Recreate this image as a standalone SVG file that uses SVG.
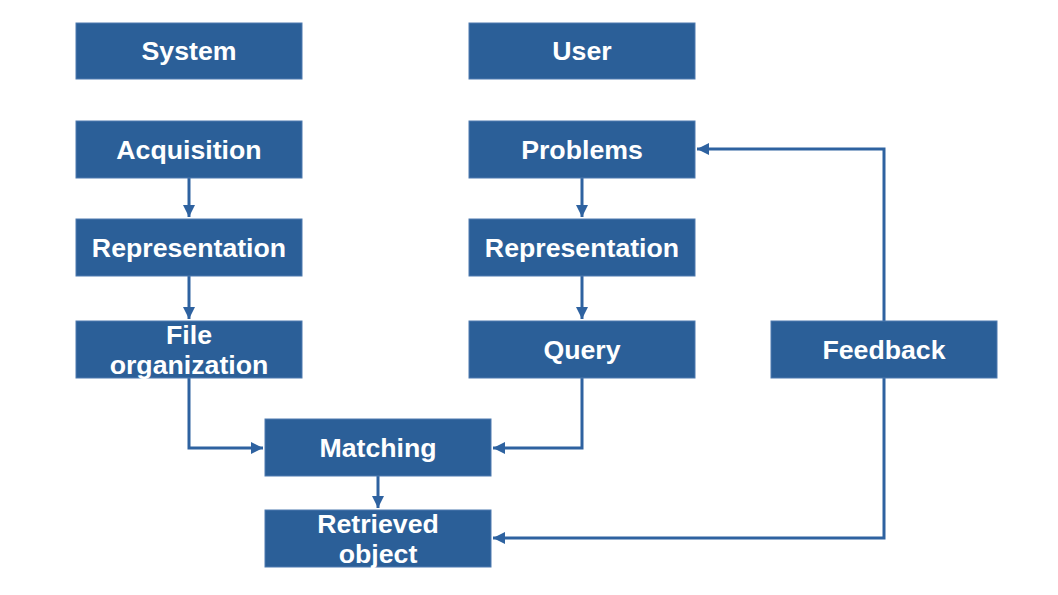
<svg xmlns="http://www.w3.org/2000/svg" width="1058" height="595" viewBox="0 0 1058 595">
<style>
.box{fill:#2b5f98;stroke:#4f7bb0;stroke-width:1}
.t{font-family:"Liberation Sans",Arial,sans-serif;font-weight:bold;font-size:26.7px;fill:#fff;text-anchor:middle}
.c{fill:none;stroke:#2e62a0;stroke-width:3}
</style>
<defs>
<marker id="ah" viewBox="0 0 10 10" refX="10" refY="5" markerWidth="4" markerHeight="4" orient="auto" markerUnits="strokeWidth">
<path d="M0,0 L10,5 L0,10 z" fill="#2e62a0"/>
</marker>
</defs>
<rect width="1058" height="595" fill="#fff"/>
<g id="connectors">
<path class="c" d="M189,178 V217" marker-end="url(#ah)"/>
<path class="c" d="M189,276 V319" marker-end="url(#ah)"/>
<path class="c" d="M582,178 V217" marker-end="url(#ah)"/>
<path class="c" d="M582,276 V319" marker-end="url(#ah)"/>
<path class="c" d="M189,378 V448 H263" marker-end="url(#ah)"/>
<path class="c" d="M582,378 V448 H493" marker-end="url(#ah)"/>
<path class="c" d="M378,476 V508" marker-end="url(#ah)"/>
<path class="c" d="M884,321 V149 H697" marker-end="url(#ah)"/>
<path class="c" d="M884,378 V538 H493" marker-end="url(#ah)"/>
</g>
<g id="system"><rect class="box" x="76" y="23" width="226" height="56"/><text class="t" x="189" y="60">System</text></g>
<g id="user"><rect class="box" x="469" y="23" width="226" height="56"/><text class="t" x="582" y="60">User</text></g>
<g id="acquisition"><rect class="box" x="76" y="121" width="226" height="57"/><text class="t" x="189" y="159">Acquisition</text></g>
<g id="problems"><rect class="box" x="469" y="121" width="226" height="57"/><text class="t" x="582" y="159">Problems</text></g>
<g id="representation-sys"><rect class="box" x="76" y="219" width="226" height="57"/><text class="t" x="189" y="257">Representation</text></g>
<g id="representation-user"><rect class="box" x="469" y="219" width="226" height="57"/><text class="t" x="582" y="257">Representation</text></g>
<g id="file-organization"><rect class="box" x="76" y="321" width="226" height="57"/><text class="t" x="189" y="344">File</text><text class="t" x="189" y="374">organization</text></g>
<g id="query"><rect class="box" x="469" y="321" width="226" height="57"/><text class="t" x="582" y="359">Query</text></g>
<g id="feedback"><rect class="box" x="771" y="321" width="226" height="57"/><text class="t" x="884" y="359">Feedback</text></g>
<g id="matching"><rect class="box" x="265" y="419" width="226" height="57"/><text class="t" x="378" y="457">Matching</text></g>
<g id="retrieved-object"><rect class="box" x="265" y="510" width="226" height="57"/><text class="t" x="378" y="533">Retrieved</text><text class="t" x="378" y="563">object</text></g>
</svg>
